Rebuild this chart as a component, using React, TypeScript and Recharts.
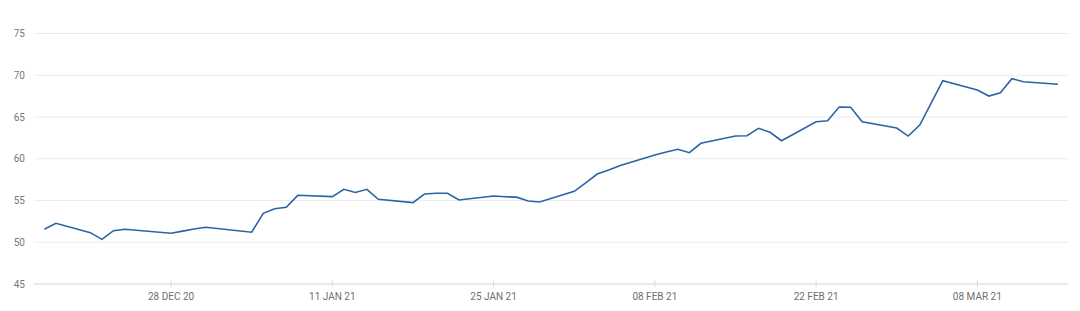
import React from 'react';
import { LineChart, Line, XAxis, YAxis, CartesianGrid } from 'recharts';

const dates = [
  '2020-12-17', '2020-12-18', '2020-12-21', '2020-12-22', '2020-12-23', '2020-12-24',
  '2020-12-28', '2020-12-29', '2020-12-30', '2020-12-31',
  '2021-01-04', '2021-01-05', '2021-01-06', '2021-01-07', '2021-01-08',
  '2021-01-11', '2021-01-12', '2021-01-13', '2021-01-14', '2021-01-15',
  '2021-01-18', '2021-01-19', '2021-01-20', '2021-01-21', '2021-01-22',
  '2021-01-25', '2021-01-26', '2021-01-27', '2021-01-28', '2021-01-29',
  '2021-02-01', '2021-02-02', '2021-02-03', '2021-02-04', '2021-02-05',
  '2021-02-08', '2021-02-09', '2021-02-10', '2021-02-11', '2021-02-12',
  '2021-02-15', '2021-02-16', '2021-02-17', '2021-02-18', '2021-02-19',
  '2021-02-22', '2021-02-23', '2021-02-24', '2021-02-25', '2021-02-26',
  '2021-03-01', '2021-03-02', '2021-03-03', '2021-03-04', '2021-03-05',
  '2021-03-08', '2021-03-09', '2021-03-10', '2021-03-11', '2021-03-12',
  '2021-03-15',
];

const values = [
  51.55, 52.27, 51.15, 50.35, 51.38, 51.55,
  51.07, 51.33, 51.59, 51.79,
  51.2, 53.47, 54.02, 54.19, 55.62,
  55.46, 56.34, 55.96, 56.34, 55.14,
  54.74, 55.78, 55.86, 55.86, 55.06,
  55.54, 55.45, 55.4, 54.94, 54.82,
  56.1, 57.1, 58.17, 58.65, 59.2,
  60.45, 60.81, 61.13, 60.73, 61.85,
  62.72, 62.76, 63.65, 63.17, 62.16,
  64.44, 64.56, 66.2, 66.16, 64.44,
  63.68, 62.72, 64.04, 66.7, 69.35,
  68.23, 67.51, 67.91, 69.59, 69.23,
  68.92,
];

const xTickDates = ['2020-12-28', '2021-01-11', '2021-01-25', '2021-02-08', '2021-02-22', '2021-03-08'];
const xTickLabels = ['28 DEC 20', '11 JAN 21', '25 JAN 21', '08 FEB 21', '22 FEB 21', '08 MAR 21'];
const yTicks = [45, 50, 55, 60, 65, 70, 75];

const DAY = 86400000;
const toTs = (s: string) => Date.parse(s + 'T00:00:00Z');

const data = dates.map((d, i) => ({ t: toTs(d), v: values[i] }));
const xTicks = xTickDates.map(toTs);
const labelFor = new Map(xTicks.map((t, i) => [t, xTickLabels[i]]));

const FONT = 'Roboto, "Liberation Sans", Arial, sans-serif';

const XTick = (props: any) => {
  const { x, y, payload } = props;
  // y arrives offset by tickSize (6) + tickMargin (2) below the axis line
  const axisY = y - 8;
  return (
    <g>
      <line x1={x} x2={x} y1={axisY - 4} y2={axisY + 3} stroke="#dcdcdc" strokeWidth={1} />
      <text x={x} y={axisY + 16} textAnchor="middle" fontSize={10} fill="#6f6f6f" fontFamily={FONT}>
        {labelFor.get(payload.value)}
      </text>
    </g>
  );
};

const YTick = (props: any) => {
  const { y, payload } = props;
  return (
    <text x={17} y={y + 3.5} textAnchor="end" fontSize={10} fill="#777" fontFamily={FONT}>
      {payload.value}
    </text>
  );
};

export default function App() {
  const first = data[0].t;
  const last = data[data.length - 1].t;
  return (
    <LineChart
      width={1064}
      height={303}
      data={data}
      margin={{ top: 25.5, right: 4, bottom: 7, left: 0 }}
    >
      <CartesianGrid horizontal vertical={false} stroke="#ececec" />
      <XAxis
        dataKey="t"
        type="number"
        scale="time"
        domain={[first - 0.9 * DAY, last + 0.87 * DAY]}
        ticks={xTicks}
        tick={<XTick />}
        tickLine={false}
        axisLine={{ stroke: '#dedede' }}
        height={20}
        interval={0}
      />
      <YAxis
        domain={[45, 75]}
        ticks={yTicks}
        tick={<YTick />}
        axisLine={false}
        tickLine={false}
        width={26}
        interval={0}
      />
      <Line
        type="linear"
        dataKey="v"
        stroke="#2a64a6"
        strokeWidth={1.6}
        dot={false}
        isAnimationActive={false}
      />
    </LineChart>
  );
}
